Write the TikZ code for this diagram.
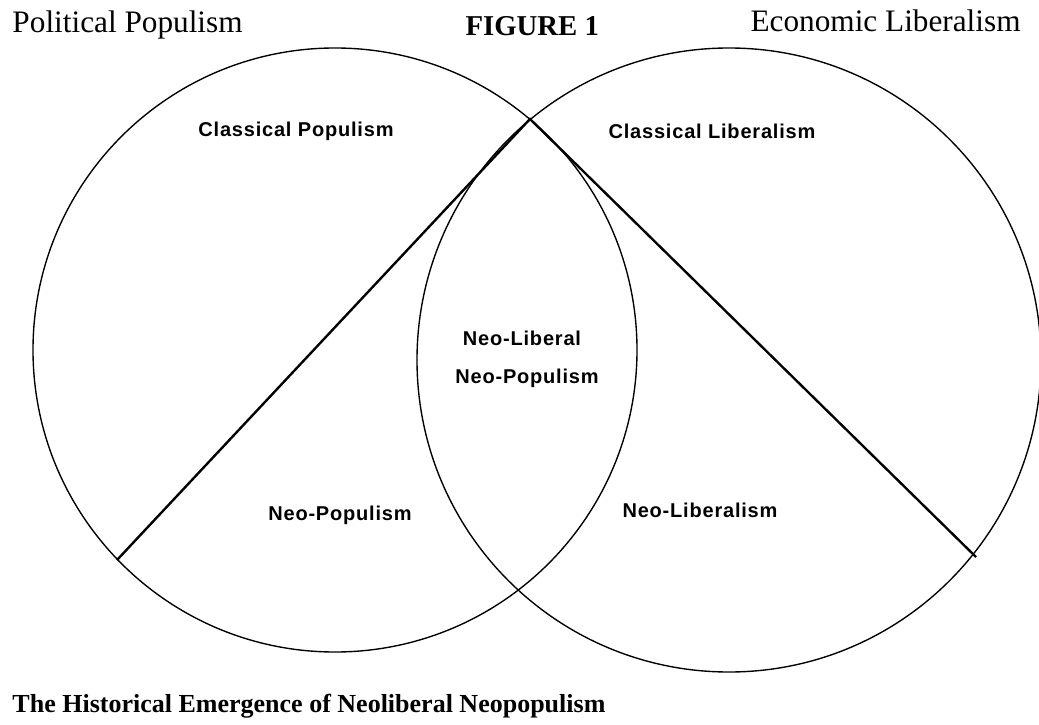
\documentclass[tikz,border=0pt]{standalone}
\usepackage{fontspec}
\setmainfont{Liberation Serif}
\newfontfamily\areafont[LetterSpace=4]{Liberation Sans}
\usetikzlibrary{positioning}

\begin{document}
\begin{tikzpicture}[
        x=0.4pt, y=-0.4pt,
        zone/.style={draw=black, line width=0.55pt},
        divider/.style={draw=black, line width=0.95pt},
        area/.style={font=\areafont\bfseries\fontsize{8}{10}\selectfont, inner sep=0pt},
        heading/.style={font=\fontsize{12.5}{15}\selectfont, inner sep=0pt},
        caption/.style={font=\bfseries\fontsize{10.4}{12}\selectfont, inner sep=0pt, anchor=base west}
    ]
        \useasboundingbox (0,0) rectangle (1039,725);

        % the two circles
        \coordinate (popc) at (335,350);
        \coordinate (libc) at (729,360);
        \draw[zone] (popc) circle[radius=120.8pt];
        \draw[zone] (libc) circle[radius=124.8pt];

        % dividing lines from the upper crossing
        \coordinate (apex) at (530,119);
        \coordinate (popend) at (117,560);
        \coordinate (libend) at (976,557);
        \draw[divider] (popend) -- (apex) -- (libend);

        % titles
        \node[heading, anchor=base west] (poltitle) at (12,33) {Political Populism};
        \node[heading, anchor=base east] (ecotitle) at (1021,32) {Economic Liberalism};
        \node[font=\bfseries\fontsize{11.5}{14}\selectfont, inner sep=0pt, anchor=base west] (fig) at (465,36) {FIGURE 1};

        % regions
        \node[area] (clpop) at (296,131) {Classical Populism};
        \node[area] (cllib) at (712,131) {Classical Liberalism};
        \node[area] (nlib) at (522,338) {Neo-Liberal};
        \node[area] (npop) at (527,378) {Neo-Populism};
        \node[area] (neopop) at (340,515) {Neo-Populism};
        \node[area] (neolib) at (700,510) {Neo-Liberalism};

        \node[caption] (cap) at (12,712) {The Historical Emergence of Neoliberal Neopopulism};
    \end{tikzpicture}
\end{document}
